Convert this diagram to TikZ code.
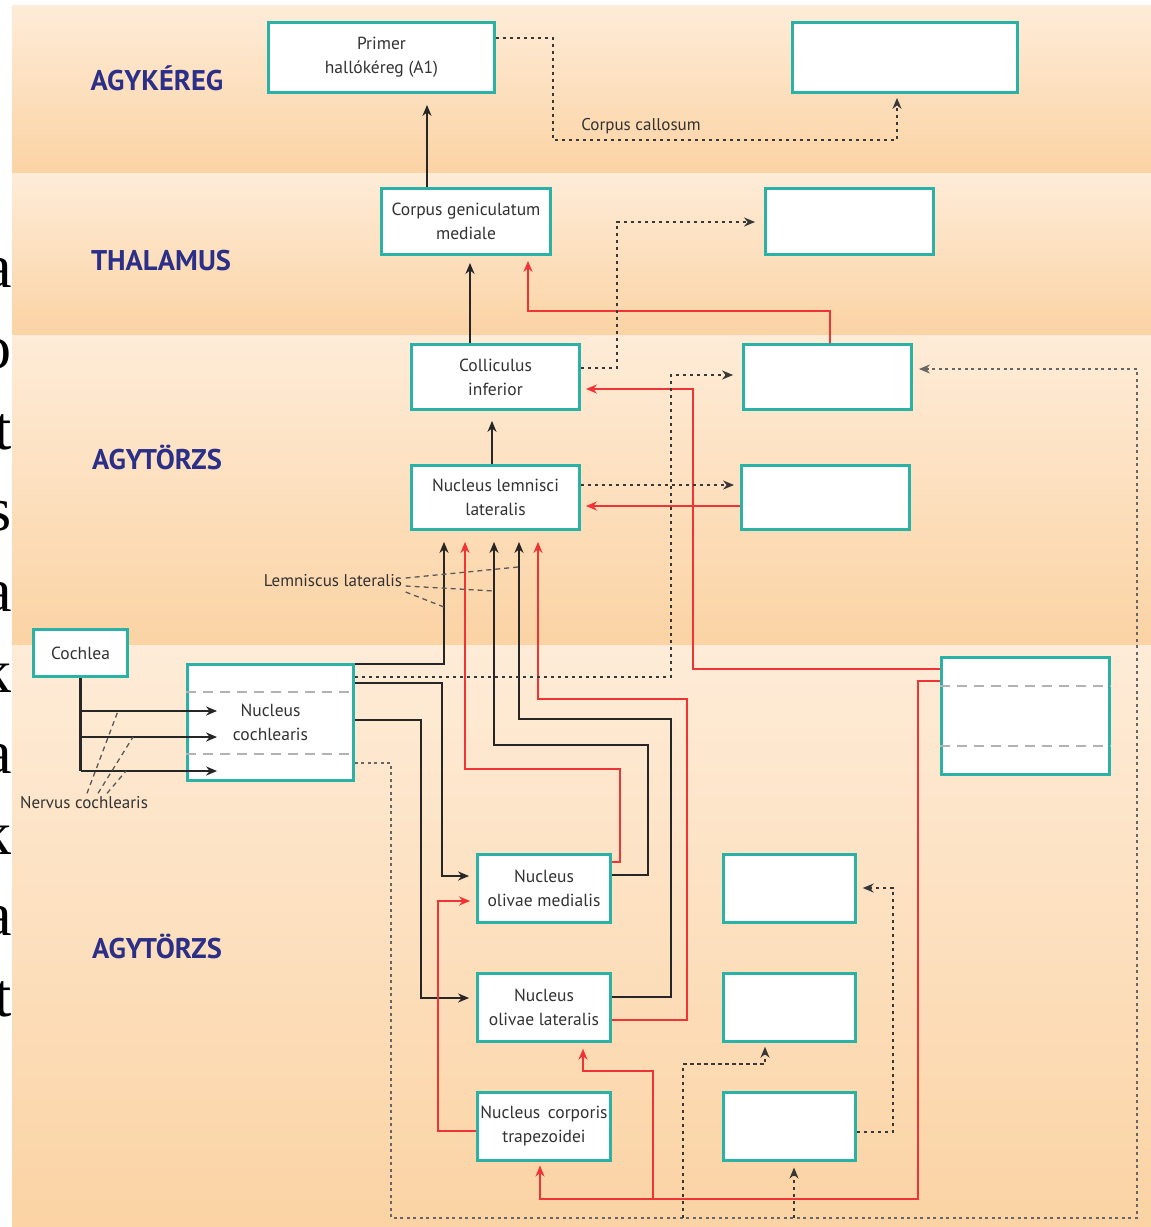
\documentclass[tikz,border=0pt]{standalone}
\usepackage{fontspec}
\setmainfont{PT Sans}
\newfontfamily\pageserif{Liberation Serif}
\usepackage{tikz}
\usetikzlibrary{arrows.meta, positioning, calc}
\definecolor{boxcolor}{RGB}{42,178,166}
\definecolor{levelcolor}{RGB}{43,47,135}
\definecolor{redpath}{RGB}{238,52,52}
\definecolor{textgray}{RGB}{50,50,50}
\definecolor{bandlight}{RGB}{254,236,216}
\definecolor{banddark}{RGB}{251,211,164}

\begin{document}
\begin{tikzpicture}[x=1pt, y=-1pt,
    nucbox/.style={rectangle, draw=boxcolor, line width=2.8pt, fill=white, inner sep=0pt, align=center, text=textgray, font=\fontsize{17.5}{24}\selectfont},
    level/.style={text=levelcolor, font=\fontsize{28.5}{32}\selectfont\bfseries},
    note/.style={text=textgray, font=\fontsize{17}{20}\selectfont},
    arr/.style={-{Stealth[length=11pt,width=9pt]}},
    ln/.style={draw=black!85, line width=2.3pt},
    blk/.style={ln, arr, shorten >=7pt},
    rline/.style={draw=redpath, line width=2.4pt, arr, shorten >=6pt},
    dots/.style={draw=black!78, line width=2.9pt, dash pattern=on 3.5pt off 3.5pt, arr, shorten >=6pt},
    gdots/.style={draw=black!60, line width=2.2pt, dash pattern=on 3pt off 3.5pt, arr, shorten >=6pt},
    sep/.style={draw=black!30, line width=2.4pt, dash pattern=on 10pt off 7pt},
    pointer/.style={draw=black!65, line width=1.3pt, dash pattern=on 5pt off 4pt}
]
\useasboundingbox (0,0) rectangle (1151,1227);

% levels
\shade[top color=bandlight, bottom color=banddark] (12,5) rectangle (1151,173);
\shade[top color=bandlight, bottom color=banddark] (12,173) rectangle (1151,335);
\shade[top color=bandlight, bottom color=banddark] (12,335) rectangle (1151,645);
\shade[top color=bandlight, bottom color=banddark] (12,645) rectangle (1151,1227);

% cut-off letters of the next column
\begin{scope}
\clip (0,0) rectangle (12,1227);
\foreach \ch/\yy in {a/287, o/368, t/449, s/530, a/611, k/692, a/773, k/854, a/935, t/1016}
  \node[anchor=base east, inner sep=0pt, font=\pageserif\fontsize{62}{62}\selectfont] (edge\yy) at (12,\yy) {\ch};
\end{scope}

\node[level] (lvctx) at (157,78) {AGYKÉREG};
\node[level] (lvthal) at (161,261) {THALAMUS};
\node[level] (lvstem) at (157,457) {AGYTÖRZS};
\node[level] (lvstemb) at (157,946) {AGYTÖRZS};

\node[nucbox, minimum width=226pt, minimum height=70pt] (a1) at (381.5,57.5) {Primer\\hallókéreg (A1)};
\node[nucbox, minimum width=225pt, minimum height=70pt] (ctx) at (905,57.5) {};
\node[nucbox, minimum width=169pt, minimum height=66pt] (cgm) at (466,221.5) {Corpus geniculatum\\mediale};
\node[nucbox, minimum width=168pt, minimum height=66pt] (thr) at (849.5,221.5) {};
\node[nucbox, minimum width=168pt, minimum height=65pt] (ci) at (495.5,377) {Colliculus\\inferior};
\node[nucbox, minimum width=168pt, minimum height=65pt] (cir) at (827.5,377) {};
\node[nucbox, minimum width=168pt, minimum height=64pt] (nll) at (495.5,497.5) {Nucleus lemnisci\\lateralis};
\node[nucbox, minimum width=168pt, minimum height=64pt] (nllr) at (825.5,497.5) {};
\node[nucbox, minimum width=94pt, minimum height=47pt] (coch) at (80.5,653) {Cochlea};
\node[nucbox, minimum width=166pt, minimum height=116pt] (nc) at (270.5,722.5) {Nucleus\\cochlearis};
\node[nucbox, minimum width=168pt, minimum height=117pt] (ncr) at (1025.5,716) {};
\node[nucbox, minimum width=133pt, minimum height=68pt] (nom) at (544,888.5) {Nucleus\\olivae medialis};
\node[nucbox, minimum width=133pt, minimum height=68pt, below=48pt of nom] (nol) {Nucleus\\olivae lateralis};
\node[nucbox, minimum width=133pt, minimum height=68pt, below=48pt of nol] (nct) {Nucleus\, corporis\\trapezoidei};
\node[nucbox, minimum width=132pt, minimum height=68pt, right=110pt of nom] (omr) {};
\node[nucbox, minimum width=132pt, minimum height=68pt, right=110pt of nol] (olr) {};
\node[nucbox, minimum width=132pt, minimum height=68pt, right=110pt of nct] (ctr) {};

\draw[sep] (nc.west |- 0,692) -- (nc.east |- 0,692);
\draw[sep] (nc.west |- 0,754) -- (nc.east |- 0,754);
\draw[sep] (ncr.west |- 0,686) -- (ncr.east |- 0,686);
\draw[sep] (ncr.west |- 0,746) -- (ncr.east |- 0,746);

\node[note] (callos) at (641,126) {Corpus callosum};
\node[note] (lemn) at (333,581) {Lemniscus lateralis};
\node[note] (nerv) at (84,803) {Nervus cochlearis};

% main ascending path
\draw[blk, shorten >=11pt] (cgm.north -| 427,0) -- (a1.south -| 427,0);
\draw[blk] (ci.north -| 470,0) -- (cgm.south -| 470,0);
\draw[blk, shorten >=10pt] (nll.north -| 492,0) -- (ci.south -| 492,0);

% into nucleus lemnisci lateralis
\draw[blk, shorten >=11pt] (nc.east |- 0,664) -| (nll.south -| 444,0);
\draw[rline, shorten >=11pt] (nom.east |- 0,862) -| (620,769) -| (nll.south -| 465,0);
\draw[blk, shorten >=11pt] (nom.east |- 0,875) -| (648,745) -| (nll.south -| 494,0);
\draw[blk, shorten >=11pt] (nol.east |- 0,997) -| (671,719) -| (nll.south -| 519,0);
\draw[rline, shorten >=11pt] (nol.east |- 0,1020) -| (687,699) -| (nll.south -| 538,0);

% cochlear nucleus to olives
\draw[blk] (nc.east |- 0,683) -| (442,876) -- (nom.west |- 0,876);
\draw[blk] (nc.east |- 0,720) -| (421,998) -- (nol.west |- 0,998);
\draw[rline] (nct.west |- 0,1131) -| (438,901) -- (nom.west |- 0,901);

% red paths
\coordinate (rsplit) at (653,1199);
\draw[rline, shorten >=5pt] (ncr.west |- 0,669) -| (693,389) -- (ci.east |- 0,389);
\draw[rline, shorten >=4pt] (ncr.west |- 0,681) -| (918,1199) -| (nct.south -| 540,0);
\draw[rline] (rsplit) |- (583,1071) -- (nol.south -| 583,0);
\draw[rline, shorten >=5pt] (cir.north -| 830,0) |- (528,311) -- (cgm.south -| 528,0);
\draw[rline, shorten >=5pt] (nllr.west |- 0,506) -- (nll.east |- 0,506);

% dotted paths
\draw[dots, shorten >=4pt] (a1.east |- 0,38) -| (553,140) -| (ctx.south -| 897,0);
\draw[dots, shorten >=9pt] (ci.east |- 0,368) -| (617,222) -- (thr.west |- 0,222);
\draw[dots, shorten >=9pt] (nc.east |- 0,677) -| (671,375) -- (cir.west |- 0,375);
\draw[dots] (nll.east |- 0,485) -- (nllr.west |- 0,485);
\draw[dots] (ctr.east |- 0,1132) -| (893,888) -- (omr.east |- 0,888);
\draw[gdots] (nc.east |- 0,763) -| (391,1218) -| (1137,369) -- (cir.east |- 0,369);
\coordinate (gsplit) at (683,1218);
\coordinate (gsplitb) at (794,1218);
\draw[dots, shorten >=4pt] (gsplit) |- (765,1064) -- (olr.south -| 765,0);
\draw[dots] (gsplitb) -- (ctr.south -| 794,0);

% nervus cochlearis
\draw[ln] (coch.south) -- (coch.south |- 0,771);
\foreach \yy in {711,737,771}
  \draw[blk, shorten >=0pt] (coch.south |- 0,\yy) -- ($(nc.west |- 0,\yy)+(31,0)$);

% pointers
\draw[pointer] (nerv.north -| 87,0) -- (118,711);
\draw[pointer] (nerv.north -| 98,0) -- (133,737);
\draw[pointer] (nerv.north -| 107,0) -- (126,771);
\draw[pointer] (lemn.east |- 0,578) -- (518,567);
\draw[pointer] (lemn.east |- 0,586) -- (494,591);
\draw[pointer] (lemn.east |- 0,592) -- (444,607);

\end{tikzpicture}
\end{document}
